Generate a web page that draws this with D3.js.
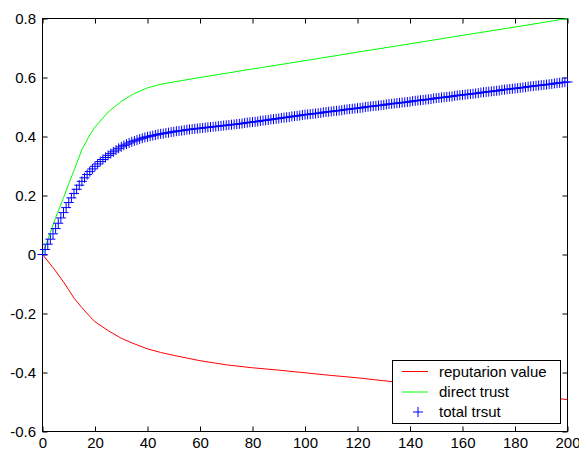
<!DOCTYPE html>
<html>
<head>
<meta charset="utf-8">
<script src="https://cdn.jsdelivr.net/npm/d3@7"></script>
<style>
  html, body { margin: 0; padding: 0; background: #fff; }
  svg { display: block; font-family: "Liberation Sans", Arial, sans-serif; }
</style>
</head>
<body>
<svg id="chart" width="579" height="450"></svg>
<script>
// ---- data ----
const xTicks = [0, 20, 40, 60, 80, 100, 120, 140, 160, 180, 200];
const xTickLabels = ["0", "20", "40", "60", "80", "100", "120", "140", "160", "180", "200"];
const yTicks = [-0.6, -0.4, -0.2, 0, 0.2, 0.4, 0.6, 0.8];
const yTickLabels = ["-0.6", "-0.4", "-0.2", "0", "0.2", "0.4", "0.6", "0.8"];

const legendLabels = ["reputarion value", "direct trust", "total trsut"];

// reputation value (red line)
const repX = [0, 2, 5, 8, 10, 12, 15, 18, 20, 25, 30, 35, 40, 45, 50, 60, 70, 80, 90, 100, 110, 120, 130, 140, 150, 160, 170, 180, 190, 200];
const repY = [0, -0.022, -0.056, -0.093, -0.12, -0.148, -0.18, -0.21, -0.228, -0.258, -0.284, -0.303, -0.32, -0.332, -0.342, -0.36, -0.374, -0.384, -0.392, -0.401, -0.41, -0.418, -0.428, -0.437, -0.446, -0.455, -0.464, -0.473, -0.482, -0.492];

// direct trust (green line)
const directX = [0, 2, 5, 8, 10, 12, 15, 18, 20, 25, 30, 35, 40, 45, 50, 60, 80, 100, 120, 140, 160, 180, 200];
const directY = [0, 0.05, 0.125, 0.192, 0.24, 0.285, 0.355, 0.405, 0.432, 0.483, 0.519, 0.546, 0.565, 0.577, 0.585, 0.6, 0.629, 0.657, 0.686, 0.714, 0.743, 0.771, 0.8];

// total trust (blue + markers), one per step 0..200
const totalY = [
  0.000,0.017,0.035,0.052,0.070,0.088,0.106,0.124,0.142,0.159,
  0.176,0.192,0.207,0.221,0.235,0.248,0.260,0.271,0.281,0.290,
  0.299,0.307,0.315,0.322,0.329,0.336,0.342,0.348,0.354,0.360,
  0.365,0.370,0.374,0.378,0.382,0.385,0.388,0.391,0.394,0.397,
  0.399,0.401,0.403,0.405,0.407,0.409,0.410,0.412,0.413,0.415,
  0.416,0.418,0.419,0.420,0.421,0.423,0.424,0.425,0.426,0.427,
  0.428,0.429,0.430,0.431,0.432,0.433,0.434,0.435,0.436,0.437,
  0.438,0.439,0.440,0.441,0.442,0.443,0.444,0.446,0.447,0.448,
  0.449,0.450,0.451,0.453,0.454,0.455,0.456,0.458,0.459,0.460,
  0.461,0.463,0.464,0.465,0.466,0.468,0.469,0.470,0.471,0.473,
  0.474,0.475,0.476,0.477,0.478,0.479,0.480,0.482,0.483,0.484,
  0.485,0.486,0.487,0.488,0.489,0.491,0.492,0.493,0.494,0.495,
  0.496,0.497,0.498,0.500,0.501,0.502,0.503,0.504,0.505,0.506,
  0.507,0.509,0.510,0.511,0.512,0.513,0.514,0.515,0.516,0.517,
  0.518,0.520,0.521,0.522,0.523,0.524,0.525,0.526,0.527,0.529,
  0.530,0.531,0.532,0.533,0.534,0.535,0.536,0.538,0.539,0.540,
  0.541,0.542,0.543,0.544,0.545,0.546,0.547,0.549,0.550,0.551,
  0.552,0.553,0.554,0.555,0.556,0.558,0.559,0.560,0.561,0.562,
  0.563,0.564,0.565,0.566,0.567,0.569,0.570,0.571,0.572,0.573,
  0.574,0.575,0.576,0.577,0.578,0.580,0.581,0.582,0.583,0.584,
  0.585
];
const totalX = totalY.map((v, i) => i);

// ---- layout ----
const svg = d3.select("#chart");
const x = d3.scaleLinear().domain([0, 200]).range([42.5, 567.5]);
const y = d3.scaleLinear().domain([-0.6, 0.8]).range([431.5, 18.5]);
const fontSize = 15;

svg.append("rect").attr("width", 579).attr("height", 450).attr("fill", "#fff");

// axes (ticks pointing inward)
const gB = svg.append("g").attr("transform", `translate(0,${y(-0.6)})`)
  .call(d3.axisBottom(x).tickValues(xTicks).tickFormat((d, i) => xTickLabels[i]).tickSize(-5).tickPadding(5.5));
const gT = svg.append("g").attr("transform", `translate(0,${y(0.8)})`)
  .call(d3.axisTop(x).tickValues(xTicks).tickFormat("").tickSize(-5));
const gL = svg.append("g").attr("transform", `translate(${x(0)},0)`)
  .call(d3.axisLeft(y).tickValues(yTicks).tickFormat((d, i) => yTickLabels[i]).tickSize(-5).tickPadding(6.5));
const gR = svg.append("g").attr("transform", `translate(${x(200)},0)`)
  .call(d3.axisRight(y).tickValues(yTicks).tickFormat("").tickSize(-5));

[gB, gT, gL, gR].forEach(g => {
  g.select(".domain").remove();
  g.selectAll(".tick line").attr("stroke", "#000");
  g.selectAll("text").attr("fill", "#000").style("font-size", fontSize + "px")
    .style("font-family", "'Liberation Sans', Arial, sans-serif");
});

// plot box
svg.append("rect")
  .attr("x", x(0)).attr("y", y(0.8))
  .attr("width", x(200) - x(0)).attr("height", y(-0.6) - y(0.8))
  .attr("fill", "none").attr("stroke", "#000").attr("stroke-width", 1);

// lines
const line = d3.line().x(d => x(d[0])).y(d => y(d[1]));
svg.append("path").datum(repX.map((v, i) => [v, repY[i]]))
  .attr("d", line).attr("fill", "none").attr("stroke", "#ff0000").attr("stroke-width", 1);
svg.append("path").datum(directX.map((v, i) => [v, directY[i]]))
  .attr("d", line).attr("fill", "none").attr("stroke", "#00ff00").attr("stroke-width", 1);

// + markers
const plusPath = (cx, cy, arm) => `M${cx - arm},${cy}H${cx + arm}M${cx},${cy - arm}V${cy + arm}`;
svg.append("g").selectAll("path").data(totalX.map((v, i) => [v, totalY[i]]))
  .join("path")
  .attr("d", d => plusPath(x(d[0]), y(d[1]), 5))
  .attr("fill", "none").attr("stroke", "#0000ff").attr("stroke-width", 1);

// legend
const lg = svg.append("g");
lg.append("rect").attr("x", 392.5).attr("y", 360.5).attr("width", 168).attr("height", 63)
  .attr("fill", "#fff").attr("stroke", "#000").attr("stroke-width", 1);
const legendColors = ["#ff0000", "#00ff00", "#0000ff"];
const legendRows = [371.5, 392, 412];
legendLabels.forEach((lab, i) => {
  const ly = legendRows[i];
  if (i < 2) {
    lg.append("line").attr("x1", 402).attr("x2", 428).attr("y1", ly).attr("y2", ly)
      .attr("stroke", legendColors[i]).attr("stroke-width", 1);
  } else {
    lg.append("path").attr("d", plusPath(418, ly, 5)).attr("stroke", legendColors[i]).attr("fill", "none");
  }
  lg.append("text").attr("x", 439).attr("y", ly).attr("dy", "0.35em")
    .style("font-size", fontSize + "px").attr("fill", "#000").text(lab);
});
</script>
</body>
</html>
